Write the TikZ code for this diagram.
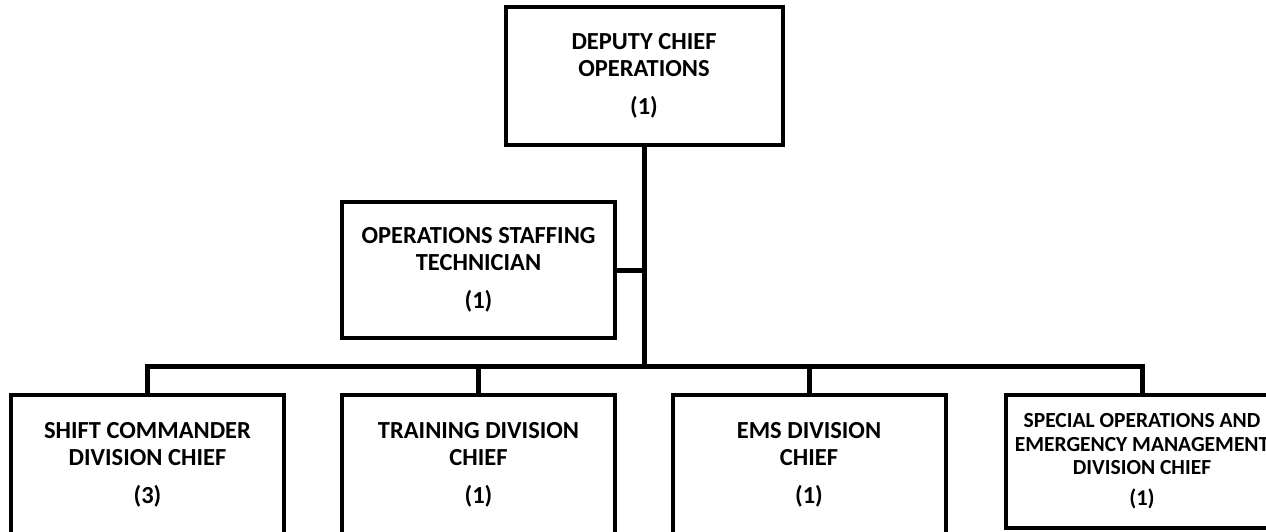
\documentclass[tikz,border=0pt]{standalone}
\usepackage{fontspec}
\setmainfont{Carlito}
\usetikzlibrary{positioning}

\begin{document}
\begin{tikzpicture}[x=1pt, y=-1pt,
    every node/.style={
    rectangle,
    draw,
    line width=4pt,
    inner sep=0pt,
    align=center,
    minimum width=273pt,
    minimum height=138pt,
    font=\fontsize{24.5}{27}\selectfont\bfseries
}, link/.style={line width=5pt}]
    \useasboundingbox (0, 0) rectangle (1266, 532);
    \clip (0, 0) rectangle (1266, 532);
    \node (deputy_chief_operations) [minimum width=277pt, shift={(644, 76)}]
    {
        DEPUTY CHIEF\\ OPERATIONS\\[11pt] (1)
    };
    \node (staffing_technician) [minimum height=136pt, shift={(478.5, 270)}]
    {
        OPERATIONS STAFFING\\ TECHNICIAN\\[11pt] (1)
    };
    \node (shift_commander_chief) [minimum height=140pt, shift={(147.5, 465)}]
    {
        SHIFT COMMANDER\\ DIVISION CHIEF\\[11pt] (3)
    };
    \node (training_division_chief) [minimum height=140pt, shift={(478.5, 465)}]
    {
        TRAINING DIVISION\\ CHIEF\\[11pt] (1)
    };
    \node (ems_division_chief) [minimum height=140pt, shift={(809, 465)}]
    {
        EMS DIVISION\\ CHIEF\\[11pt] (1)
    };
    \node (special_operations_chief) [minimum height=133pt, shift={(1142, 461.5)},
        font=\fontsize{21.5}{23.5}\selectfont\bfseries]
    {
        SPECIAL OPERATIONS AND\\ EMERGENCY MANAGEMENT\\ DIVISION CHIEF\\[7.5pt]
        {\fontsize{22.5}{23.5}\selectfont (1)}
    };
    \coordinate (bus) at (644, 366);
    \draw[link] (deputy_chief_operations) to (bus);
    \draw[link] (staffing_technician) to (staffing_technician.east -| bus);
    \draw[link] (shift_commander_chief) |- (bus) -| (special_operations_chief);
    \draw[link] (training_division_chief) to (training_division_chief.north |- bus);
    \draw[link] (ems_division_chief) to (ems_division_chief.north |- bus);
\end{tikzpicture}
\end{document}
